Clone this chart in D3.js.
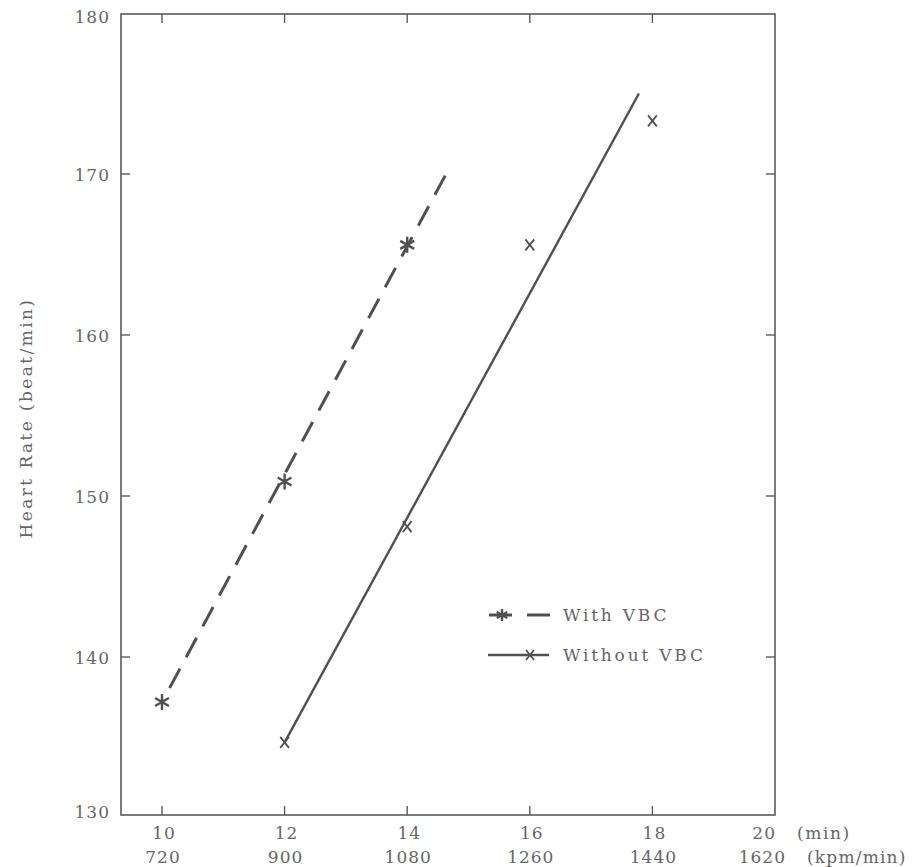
<!DOCTYPE html>
<html>
<head>
<meta charset="utf-8">
<script src="https://cdn.jsdelivr.net/npm/d3@7"></script>
<style>
  body { margin: 0; background: #fff; }
  svg { display: block; }
  text { font-family: "DejaVu Serif", "Liberation Serif", serif; fill: #666; }
</style>
</head>
<body>
<svg id="chart" width="918" height="867"></svg>
<script>
// ---- data ----
const xTicksMin = [10, 12, 14, 16, 18, 20];
const xTicksKpm = ["720", "900", "1080", "1260", "1440", "1620"];
const yTicks = [130, 140, 150, 160, 170, 180];

const withVBCx = [10, 12, 14];
const withVBCy = [137.2, 150.9, 165.6];
const withVBCfitX = [10, 14.62];
const withVBCfitY = [137.2, 169.9];

const withoutVBCx = [12, 14, 16, 18];
const withoutVBCy = [134.7, 148.1, 165.6, 173.3];
const withoutVBCfitX = [12, 17.78];
const withoutVBCfitY = [134.7, 175.0];

const legendLabels = ["With VBC", "Without VBC"];

// ---- layout ----
(function () {
const svg = d3.select("#chart");
const x = d3.scaleLinear().domain([10, 20]).range([162, 775]);
const y = d3.scaleLinear().domain([130, 180]).range([818, 13]);
const fLeft = 121, fRight = 775, fTop = 14, fBottom = 815;
const axisColor = "#5a5a5a";
const inkColor = "#505050";

// frame
svg.append("rect").attr("x", fLeft).attr("y", fTop)
  .attr("width", fRight - fLeft).attr("height", fBottom - fTop)
  .attr("fill", "none").attr("stroke", axisColor).attr("stroke-width", 1.6);

// ticks on all four sides (inward)
const tickLen = 9;
xTicksMin.filter(d => d < 20).forEach(d => {
  svg.append("line").attr("x1", x(d)).attr("x2", x(d)).attr("y1", fBottom).attr("y2", fBottom - tickLen)
    .attr("stroke", axisColor).attr("stroke-width", 1.4);
  svg.append("line").attr("x1", x(d)).attr("x2", x(d)).attr("y1", fTop).attr("y2", fTop + tickLen)
    .attr("stroke", axisColor).attr("stroke-width", 1.4);
});
yTicks.filter(d => d > 130 && d < 180).forEach(d => {
  svg.append("line").attr("x1", fLeft).attr("x2", fLeft + tickLen).attr("y1", y(d)).attr("y2", y(d))
    .attr("stroke", axisColor).attr("stroke-width", 1.4);
  svg.append("line").attr("x1", fRight).attr("x2", fRight - tickLen).attr("y1", y(d)).attr("y2", y(d))
    .attr("stroke", axisColor).attr("stroke-width", 1.4);
});

// y tick labels
yTicks.forEach(d => {
  let yy = y(d) + 7;
  if (d === 180) yy = fTop + 9;
  if (d === 130) yy = fBottom + 3;
  svg.append("text").attr("x", 110).attr("y", yy).attr("text-anchor", "end")
    .attr("font-size", 17).attr("letter-spacing", 1).text(d);
});

// x tick labels
xTicksMin.forEach((d, i) => {
  const last = i === xTicksMin.length - 1;
  svg.append("text").attr("x", last ? x(d) + 1 : x(d) + 2).attr("y", 839)
    .attr("text-anchor", last ? "end" : "middle")
    .attr("font-size", 17).attr("letter-spacing", 1).text(d);
  svg.append("text").attr("x", last ? x(d) + 11 : x(d) + 1).attr("y", 863)
    .attr("text-anchor", last ? "end" : "middle")
    .attr("font-size", 17).attr("letter-spacing", 1).text(xTicksKpm[i]);
});
svg.append("text").attr("x", 797).attr("y", 839).attr("font-size", 17).attr("letter-spacing", 1.6).text("(min)");
svg.append("text").attr("x", 807).attr("y", 863).attr("font-size", 17).attr("letter-spacing", 1.2).text("(kpm/min)");

// y axis title
svg.append("text").attr("transform", "translate(32,418) rotate(-90)")
  .attr("text-anchor", "middle").attr("font-size", 17).attr("letter-spacing", 2.4)
  .text("Heart Rate (beat/min)");

// lines
const line = d3.line().x(d => x(d[0])).y(d => y(d[1]));
svg.append("path").datum(d3.zip(withVBCfitX, withVBCfitY)).attr("d", line)
  .attr("fill", "none").attr("stroke", inkColor).attr("stroke-width", 3)
  .attr("stroke-dasharray", "22,13").attr("stroke-dashoffset", -16);
svg.append("path").datum(d3.zip(withoutVBCfitX, withoutVBCfitY)).attr("d", line)
  .attr("fill", "none").attr("stroke", inkColor).attr("stroke-width", 2.4);

// markers
function asterisk(g, cx, cy, r) {
  const t = r * 0.5, u = r * 0.866;
  g.append("path")
    .attr("d", `M${cx},${cy - r}L${cx},${cy + r}M${cx - u},${cy - t}L${cx + u},${cy + t}M${cx - u},${cy + t}L${cx + u},${cy - t}`)
    .attr("stroke", inkColor).attr("stroke-width", 2.4).attr("fill", "none");
}
function cross(g, cx, cy, r) {
  g.append("path")
    .attr("d", `M${cx - r * 0.8},${cy - r}L${cx + r * 0.8},${cy + r}M${cx - r * 0.8},${cy + r}L${cx + r * 0.8},${cy - r}`)
    .attr("stroke", inkColor).attr("stroke-width", 1.8).attr("fill", "none");
}
withVBCx.forEach((d, i) => asterisk(svg, x(d), y(withVBCy[i]), 8));
withoutVBCx.forEach((d, i) => cross(svg, x(d), y(withoutVBCy[i]), 5.5));

// legend
const lg = svg.append("g");
lg.append("line").attr("x1", 489).attr("x2", 512).attr("y1", 615).attr("y2", 615)
  .attr("stroke", inkColor).attr("stroke-width", 3);
asterisk(lg, 502, 615, 6);
lg.append("line").attr("x1", 527).attr("x2", 550).attr("y1", 615).attr("y2", 615)
  .attr("stroke", inkColor).attr("stroke-width", 3);
lg.append("text").attr("x", 563).attr("y", 621).attr("font-size", 17).attr("letter-spacing", 2.8).text(legendLabels[0]);

lg.append("line").attr("x1", 488).attr("x2", 549).attr("y1", 655).attr("y2", 655)
  .attr("stroke", inkColor).attr("stroke-width", 2.4);
cross(lg, 530, 655, 5);
lg.append("text").attr("x", 563).attr("y", 661).attr("font-size", 17).attr("letter-spacing", 2.8).text(legendLabels[1]);
})();
</script>
</body>
</html>
